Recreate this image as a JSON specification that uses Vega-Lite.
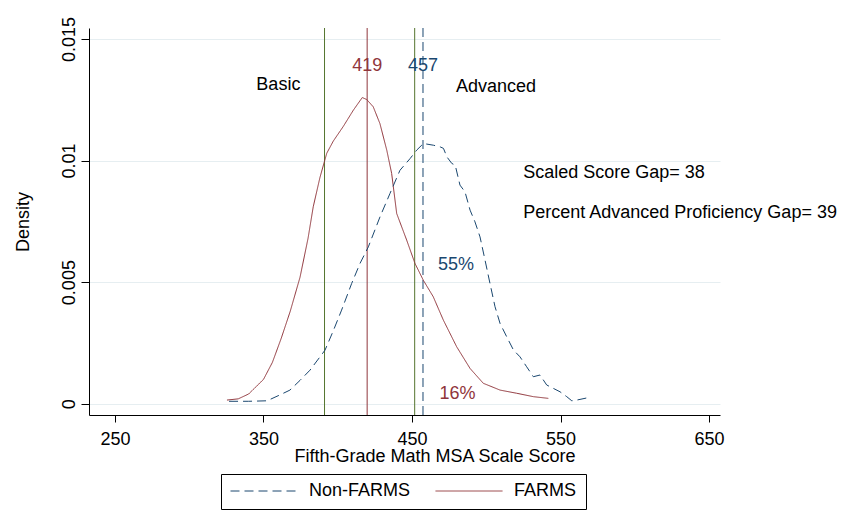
{
  "$schema": "https://vega.github.io/schema/vega-lite/v6.json",
  "autosize": "none",
  "padding": {"left": 89, "top": 28, "right": 131, "bottom": 111},
  "width": 631,
  "height": 387,
  "background": "white",
  "config": {
    "view": {"stroke": null},
    "font": "Liberation Sans",
    "axis": {"labelFont": "Liberation Sans", "titleFont": "Liberation Sans", "labelFontSize": 18, "titleFontSize": 18, "titleFontWeight": "normal", "labelColor": "#000", "titleColor": "#000", "domainColor": "#000", "tickColor": "#000", "domainWidth": 1, "tickWidth": 1},
    "legend": {"labelFont": "Liberation Sans", "labelFontSize": 18, "labelColor": "#000"}
  },
  "datasets": {
    "density": [
      {"group": "FARMS", "score": 325.4, "density": 0.00015},
      {"group": "FARMS", "score": 333, "density": 0.0002},
      {"group": "FARMS", "score": 340, "density": 0.0004},
      {"group": "FARMS", "score": 345, "density": 0.0007},
      {"group": "FARMS", "score": 350, "density": 0.001},
      {"group": "FARMS", "score": 356, "density": 0.0017},
      {"group": "FARMS", "score": 362, "density": 0.0027},
      {"group": "FARMS", "score": 368, "density": 0.0038},
      {"group": "FARMS", "score": 374.6, "density": 0.0052},
      {"group": "FARMS", "score": 380, "density": 0.0068},
      {"group": "FARMS", "score": 383.5, "density": 0.0081},
      {"group": "FARMS", "score": 388, "density": 0.0093},
      {"group": "FARMS", "score": 392.6, "density": 0.0103},
      {"group": "FARMS", "score": 397, "density": 0.0108},
      {"group": "FARMS", "score": 403.7, "density": 0.0114},
      {"group": "FARMS", "score": 410.5, "density": 0.01207},
      {"group": "FARMS", "score": 416.5, "density": 0.01259},
      {"group": "FARMS", "score": 419.5, "density": 0.01251},
      {"group": "FARMS", "score": 423.9, "density": 0.01221},
      {"group": "FARMS", "score": 428.4, "density": 0.01152},
      {"group": "FARMS", "score": 433, "density": 0.01043},
      {"group": "FARMS", "score": 436.3, "density": 0.00947},
      {"group": "FARMS", "score": 439.7, "density": 0.00782},
      {"group": "FARMS", "score": 446.4, "density": 0.00673},
      {"group": "FARMS", "score": 452, "density": 0.00577},
      {"group": "FARMS", "score": 457.6, "density": 0.00508},
      {"group": "FARMS", "score": 464.3, "density": 0.0044},
      {"group": "FARMS", "score": 471.1, "density": 0.00344},
      {"group": "FARMS", "score": 480.1, "density": 0.00234},
      {"group": "FARMS", "score": 489.1, "density": 0.00145},
      {"group": "FARMS", "score": 498, "density": 0.00084},
      {"group": "FARMS", "score": 509.3, "density": 0.00056},
      {"group": "FARMS", "score": 520.5, "density": 0.00043},
      {"group": "FARMS", "score": 531.7, "density": 0.00029},
      {"group": "FARMS", "score": 541.8, "density": 0.00022},
      {"group": "Non-FARMS", "score": 326.8, "density": 0.0001},
      {"group": "Non-FARMS", "score": 340, "density": 0.0001},
      {"group": "Non-FARMS", "score": 352.4, "density": 0.00012},
      {"group": "Non-FARMS", "score": 361, "density": 0.00036},
      {"group": "Non-FARMS", "score": 367.8, "density": 0.00056},
      {"group": "Non-FARMS", "score": 374.6, "density": 0.00096},
      {"group": "Non-FARMS", "score": 381.3, "density": 0.00138},
      {"group": "Non-FARMS", "score": 391.4, "density": 0.0022},
      {"group": "Non-FARMS", "score": 397, "density": 0.003},
      {"group": "Non-FARMS", "score": 402.6, "density": 0.00385},
      {"group": "Non-FARMS", "score": 409.4, "density": 0.00495},
      {"group": "Non-FARMS", "score": 415, "density": 0.00577},
      {"group": "Non-FARMS", "score": 420.6, "density": 0.00645},
      {"group": "Non-FARMS", "score": 428.5, "density": 0.00769},
      {"group": "Non-FARMS", "score": 435.2, "density": 0.00865},
      {"group": "Non-FARMS", "score": 441.9, "density": 0.0096},
      {"group": "Non-FARMS", "score": 448.7, "density": 0.01008},
      {"group": "Non-FARMS", "score": 453.2, "density": 0.01043},
      {"group": "Non-FARMS", "score": 457.7, "density": 0.0107},
      {"group": "Non-FARMS", "score": 464.4, "density": 0.01063},
      {"group": "Non-FARMS", "score": 469, "density": 0.01056},
      {"group": "Non-FARMS", "score": 471.2, "density": 0.0105},
      {"group": "Non-FARMS", "score": 473.5, "density": 0.01015},
      {"group": "Non-FARMS", "score": 476.8, "density": 0.00988},
      {"group": "Non-FARMS", "score": 479.1, "density": 0.00981},
      {"group": "Non-FARMS", "score": 482.3, "density": 0.00899},
      {"group": "Non-FARMS", "score": 485.7, "density": 0.00871},
      {"group": "Non-FARMS", "score": 489.1, "density": 0.00796},
      {"group": "Non-FARMS", "score": 492.4, "density": 0.00748},
      {"group": "Non-FARMS", "score": 495.8, "density": 0.00686},
      {"group": "Non-FARMS", "score": 499.2, "density": 0.0059},
      {"group": "Non-FARMS", "score": 502.5, "density": 0.00495},
      {"group": "Non-FARMS", "score": 505.9, "density": 0.00399},
      {"group": "Non-FARMS", "score": 509.3, "density": 0.0033},
      {"group": "Non-FARMS", "score": 513.8, "density": 0.00275},
      {"group": "Non-FARMS", "score": 518.3, "density": 0.00221},
      {"group": "Non-FARMS", "score": 522.7, "density": 0.00193},
      {"group": "Non-FARMS", "score": 527.2, "density": 0.00152},
      {"group": "Non-FARMS", "score": 531.7, "density": 0.00111},
      {"group": "Non-FARMS", "score": 536.2, "density": 0.00118},
      {"group": "Non-FARMS", "score": 540.7, "density": 0.00077},
      {"group": "Non-FARMS", "score": 545.2, "density": 0.00063},
      {"group": "Non-FARMS", "score": 549.7, "density": 0.00049},
      {"group": "Non-FARMS", "score": 554.2, "density": 0.00029},
      {"group": "Non-FARMS", "score": 557.6, "density": 0.00012},
      {"group": "Non-FARMS", "score": 561, "density": 0.00015},
      {"group": "Non-FARMS", "score": 568.7, "density": 0.00025}
    ],
    "cutoffs": [{"score": 391.1}, {"score": 451.8}],
    "means": [
      {"group": "FARMS", "score": 419.8, "label": "419", "density": 0.0139},
      {"group": "Non-FARMS", "score": 457.4, "label": "457", "density": 0.0139}
    ],
    "percents": [
      {"group": "Non-FARMS", "score": 479.6, "density": 0.0057, "label": "55%"},
      {"group": "FARMS", "score": 480.6, "density": 0.0004, "label": "16%"}
    ],
    "notes": [
      {"score": 345.2, "density": 0.0131, "label": "Basic"},
      {"score": 479.6, "density": 0.01304, "label": "Advanced"},
      {"score": 524.9, "density": 0.00949, "label": "Scaled Score Gap= 38"},
      {"score": 524.9, "density": 0.00785, "label": "Percent Advanced Proficiency Gap= 39"}
    ]
  },
  "encoding": {
    "x": {
      "field": "score", "type": "quantitative",
      "scale": {"domain": [232.5, 657.4], "nice": false, "zero": false},
      "axis": {
        "values": [250, 350, 450, 550, 650], "grid": false, "tickSize": 7,
        "labelBaseline": "alphabetic", "labelPadding": 22, "labelFlush": false,
        "title": "Fifth-Grade Math MSA Scale Score", "titleX": 345.5, "titleY": 46,
        "titleBaseline": "alphabetic", "titleAlign": "center", "titleAnchor": null
      }
    },
    "y": {
      "field": "density", "type": "quantitative",
      "scale": {"domain": [-0.000464, 0.01545], "nice": false, "zero": false},
      "axis": {
        "values": [0, 0.005, 0.01, 0.015], "format": "~g", "grid": true,
        "gridColor": "#e6eef1", "gridWidth": 1, "tickSize": 8,
        "labelAngle": 270, "labelAlign": "center", "labelBaseline": "bottom", "labelPadding": 3, "labelFlush": false,
        "title": "Density", "titleAngle": 270, "titleX": -61, "titleY": 193.5,
        "titleBaseline": "alphabetic", "titleAlign": "center", "titleAnchor": null
      }
    }
  },
  "layer": [
    {
      "data": {"name": "cutoffs"},
      "mark": {"type": "rule", "color": "#55752f", "strokeWidth": 1},
      "encoding": {"x": {"field": "score", "type": "quantitative"}, "y": null}
    },
    {
      "data": {"name": "means"},
      "mark": {"type": "rule", "strokeWidth": 1},
      "encoding": {
        "x": {"field": "score", "type": "quantitative"},
        "y": null,
        "color": {"field": "group", "type": "nominal", "scale": {"domain": ["Non-FARMS", "FARMS"], "range": ["#1a476f", "#90353b"]}},
        "strokeDash": {"field": "group", "type": "nominal", "scale": {"domain": ["Non-FARMS", "FARMS"], "range": [[9, 5], [1, 0]]}}
      }
    },
    {
      "data": {"name": "density"},
      "mark": {"type": "line", "strokeWidth": 1},
      "encoding": {
        "color": {"field": "group", "type": "nominal", "legend": {
          "title": null, "orient": "none", "direction": "horizontal", "legendX": 132, "legendY": 446,
          "symbolType": "stroke", "symbolSize": 4489, "symbolStrokeWidth": 1, "clipHeight": 16,
          "labelOffset": 11, "columnPadding": 24, "padding": 9,
          "strokeColor": "#000", "fillColor": "#fff", "labelFontSize": 18
        }},
        "strokeDash": {"field": "group", "type": "nominal", "legend": {
          "title": null, "orient": "none", "direction": "horizontal", "legendX": 132, "legendY": 446,
          "symbolType": "stroke", "symbolSize": 4489, "symbolStrokeWidth": 1, "clipHeight": 16,
          "labelOffset": 11, "columnPadding": 24, "padding": 9,
          "strokeColor": "#000", "fillColor": "#fff", "labelFontSize": 18
        }}
      }
    },
    {
      "data": {"name": "means"},
      "mark": {"type": "text", "fontSize": 18, "align": "center", "baseline": "middle"},
      "encoding": {
        "text": {"field": "label"},
        "color": {"field": "group", "type": "nominal"}
      }
    },
    {
      "data": {"name": "percents"},
      "mark": {"type": "text", "fontSize": 18, "align": "center", "baseline": "middle"},
      "encoding": {
        "text": {"field": "label"},
        "color": {"field": "group", "type": "nominal"}
      }
    },
    {
      "data": {"name": "notes"},
      "mark": {"type": "text", "fontSize": 18, "align": "left", "baseline": "middle", "color": "#000"},
      "encoding": {"text": {"field": "label"}}
    }
  ]
}
